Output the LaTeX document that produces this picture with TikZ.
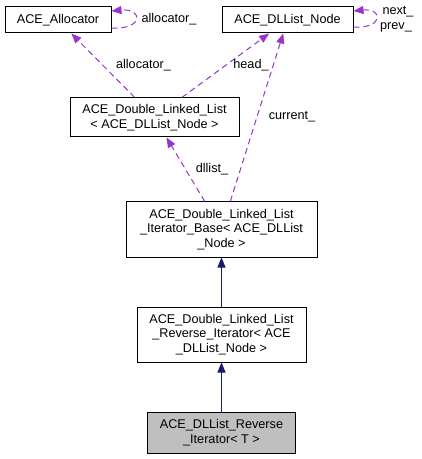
\documentclass[tikz,border=0pt]{standalone}
\usepackage{fontspec}
\setmainfont{Liberation Sans}
\usetikzlibrary{arrows.meta}
\definecolor{depcol}{HTML}{9A32CD}
\definecolor{inhcol}{HTML}{191970}
\definecolor{curcol}{HTML}{BFBFBF}
\tikzset{
  cls/.style={draw=black, line width=0.75pt, fill=white, align=center, inner sep=0pt,
    font=\fontsize{9.5}{11}\selectfont},
  lbl/.style={inner sep=0pt, font=\fontsize{9.5}{11}\selectfont},
  dep/.style={draw=depcol, line width=0.75pt, dash pattern=on 4.5pt off 3pt,
    -{Triangle[length=7.5pt,width=6pt,fill=depcol]}},
  inh/.style={draw=inhcol, line width=0.75pt,
    -{Triangle[length=7.5pt,width=6pt,fill=inhcol]}}
}
\begin{document}
\begin{tikzpicture}[x=0.75pt, y=-0.75pt]
\useasboundingbox (0,0) rectangle (421,459);

% classes
\node[cls, minimum width=79.5pt, minimum height=19.5pt] (alloc) at (58,20) {ACE\_Allocator};
\node[cls, minimum width=98.25pt, minimum height=19.5pt] (dlnode) at (287.5,20) {ACE\_DLList\_Node};
\node[cls, minimum width=126.75pt, minimum height=29.25pt] (dlist) at (154.5,117.5)
  {ACE\_Double\_Linked\_List\\{<} ACE\_DLList\_Node {>}};
\node[cls, minimum width=143.25pt, minimum height=41.25pt] (base) at (221.5,229.5)
  {ACE\_Double\_Linked\_List\\\_Iterator\_Base{<} ACE\_DLList\\\_Node {>}};
\node[cls, minimum width=126.75pt, minimum height=41.25pt] (rev) at (221.5,334.5)
  {ACE\_Double\_Linked\_List\\\_Reverse\_Iterator{<} ACE\\\_DLList\_Node {>}};
\node[cls, fill=curcol, minimum width=111pt, minimum height=30.75pt] (dlrev) at (221.5,432.5)
  {ACE\_DLList\_Reverse\\\_Iterator{<} T {>}};

% inheritance
\draw[inh] (rev) -- (base);
\draw[inh] (dlrev) -- (rev);

% members
\draw[dep] (dlist) -- (alloc);
\draw[dep] (dlist) -- (dlnode);
\draw[dep] (base) -- (dlnode);
\draw[dep] (base) -- (dlist);
\draw[dep] ([yshift=-6pt]alloc.east) .. controls +(32,2) and +(32,-3) .. ([yshift=6.75pt]alloc.east);
\draw[dep] ([yshift=-5.25pt]dlnode.east) .. controls +(30,2) and +(30,-3) .. ([yshift=6.75pt]dlnode.east);

% labels
\node[lbl] (l1) at (169,19) {allocator\_};
\node[lbl] (l2) at (398,12) {next\_};
\node[lbl] (l3) at (396,27) {prev\_};
\node[lbl] (l4) at (143.5,65) {allocator\_};
\node[lbl] (l5) at (251,65) {head\_};
\node[lbl] (l6) at (292,117) {current\_};
\node[lbl] (l7) at (212,169) {dllist\_};
\end{tikzpicture}
\end{document}
